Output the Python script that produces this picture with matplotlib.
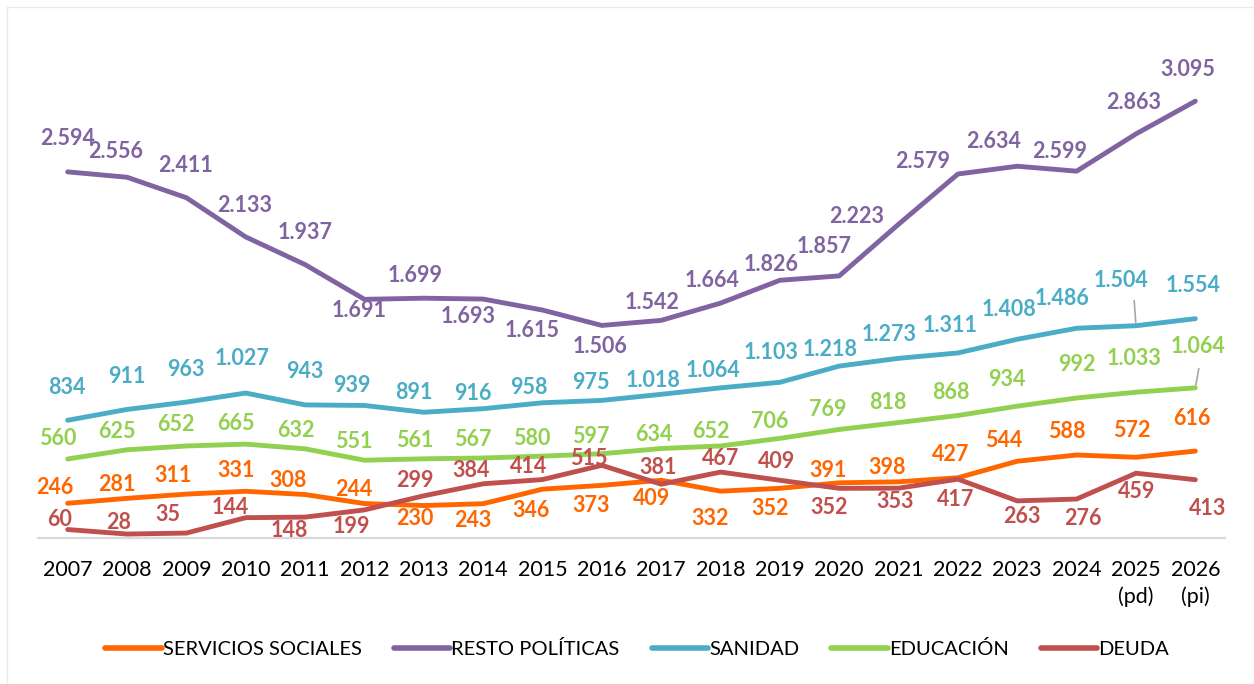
import matplotlib
matplotlib.use("Agg")
import matplotlib.pyplot as plt
from matplotlib.lines import Line2D

plt.rcParams["font.family"] = ["Lato", "DejaVu Sans"]

# datos
years = ["2007", "2008", "2009", "2010", "2011", "2012", "2013", "2014", "2015", "2016",
         "2017", "2018", "2019", "2020", "2021", "2022", "2023", "2024", "2025\n(pd)", "2026\n(pi)"]
servicios = [246, 281, 311, 331, 308, 244, 230, 243, 346, 373, 409, 332, 352, 391, 398, 427, 544, 588, 572, 616]
resto = [2594, 2556, 2411, 2133, 1937, 1691, 1699, 1693, 1615, 1506, 1542, 1664, 1826, 1857, 2223, 2579, 2634, 2599, 2863, 3095]
sanidad = [834, 911, 963, 1027, 943, 939, 891, 916, 958, 975, 1018, 1064, 1103, 1218, 1273, 1311, 1408, 1486, 1504, 1554]
educacion = [560, 625, 652, 665, 632, 551, 561, 567, 580, 597, 634, 652, 706, 769, 818, 868, 934, 992, 1033, 1064]
deuda = [60, 28, 35, 144, 148, 199, 299, 384, 414, 515, 381, 467, 409, 352, 353, 417, 263, 276, 459, 413]

# posiciones de las etiquetas (pixeles, y hacia abajo)
off_serv = [(-13, -16), (-10, -14), (-13, -19), (-10, -21), (-17, -14), (-11, -14), (-9, 13), (-10, 17),
            (-11, 21), (-11, 20), (-10, 18), (-10, 27), (-10, 20), (-11, -12), (-11, -14), (-7, -23),
            (-14, -21), (-10, -24), (-4, -27), (-3, -33)]
off_resto = [(0, -33), (-11, -26), (-1, -32), (-1, -31), (0, -32), (-5, 11), (-9, -23), (-15, 17),
             (-10, 20), (-2, 21), (-9, -18), (-8, -23), (-9, -16), (-15, -29), (-42, -8), (-35, -12),
             (-24, -25), (-17, -20), (-2, -31), (-8, -32)]
off_san = [(-1, -33), (0, -33), (-1, -33), (-4, -35), (0, -33), (-13, -20), (-10, -20), (-10, -15),
           (-14, -15), (-11, -18), (-8, -14), (-8, -17), (-9, -30), (-9, -17), (-9, -24), (-8, -27),
           (-8, -30), (-15, -30), (-15, -45), (-2, -33)]
off_edu = [(-10, -20), (-10, -18), (-10, -21), (-10, -21), (-9, -18), (-11, -19), (-9, -18), (-10, -18),
           (-11, -18), (-11, -17), (-7, -14), (-10, -14), (-10, -17), (-11, -20), (-11, -20), (-7, -23),
           (-10, -27), (0, -33), (-2, -34), (3, -41)]
off_deuda = [(-8, -10), (-8, -12), (-19, -19), (-15, -10), (-16, 13), (-13, 17), (-9, -15), (-12, -13),
             (-14, -13), (-13, -7), (-3, -17), (0, -14), (-3, -19), (-10, 19), (-3, 13), (-2, 20),
             (5, 16), (6, 19), (1, 18), (12, 29)]

series = [
    ("SERVICIOS SOCIALES", servicios, "#FF6600", off_serv),
    ("RESTO POLÍTICAS", resto, "#8064A2", off_resto),
    ("SANIDAD", sanidad, "#4BACC6", off_san),
    ("EDUCACIÓN", educacion, "#92D050", off_edu),
    ("DEUDA", deuda, "#C0504D", off_deuda),
]

fig = plt.figure(figsize=(12.54, 6.84), dpi=100)
ax = fig.add_axes([38 / 1254, 146 / 684, 1187 / 1254, 494 / 684])
x = list(range(len(years)))

handles = []
for name, vals, color, offs in series:
    ax.plot(x, vals, color=color, lw=3.5, solid_capstyle="round", zorder=3)
    handles.append(Line2D([], [], color=color, lw=4, solid_capstyle="round"))
    for i, v in enumerate(vals):
        txt = f"{v:,}".replace(",", ".")
        dx, dy = offs[i]
        ax.annotate(txt, (i, v), xytext=(dx, -dy), textcoords="offset pixels",
                    ha="center", va="center", color=color, fontsize=15.5,
                    fontweight="bold", zorder=4)

# lineas guia
ax.annotate("", (18, 1504), xytext=(-2, 28), textcoords="offset pixels",
            arrowprops=dict(arrowstyle="-", color="#A6A6A6", lw=1.2))
ax.annotate("", (19, 1064), xytext=(4, 22), textcoords="offset pixels",
            arrowprops=dict(arrowstyle="-", color="#A6A6A6", lw=1.2))

ax.set_xlim(-0.5, 19.5)
ax.set_ylim(0, 3500)
ax.set_xticks(x)
ax.set_xticklabels(years, fontsize=15.5, linespacing=1.35, va="top")
ax.tick_params(axis="x", length=0, pad=16)
ax.set_yticks([])
for s in ["top", "right", "left"]:
    ax.spines[s].set_visible(False)
ax.spines["bottom"].set_color("#D9D9D9")
ax.spines["bottom"].set_linewidth(1.6)

fig.legend(handles, [s[0] for s in series], loc="center", bbox_to_anchor=(0.508, 0.051),
           ncol=5, frameon=False, fontsize=14.5, handlelength=2.8, handletextpad=0.05,
           columnspacing=1.6)

# marco
fig.add_artist(Line2D([7 / 1254, 7 / 1254], [0, 677 / 684], color="#EBEBEB", lw=1,
                      transform=fig.transFigure))
fig.add_artist(Line2D([7 / 1254, 1], [677 / 684, 677 / 684], color="#EBEBEB", lw=1,
                      transform=fig.transFigure))

fig.savefig("out.png", dpi=100)
